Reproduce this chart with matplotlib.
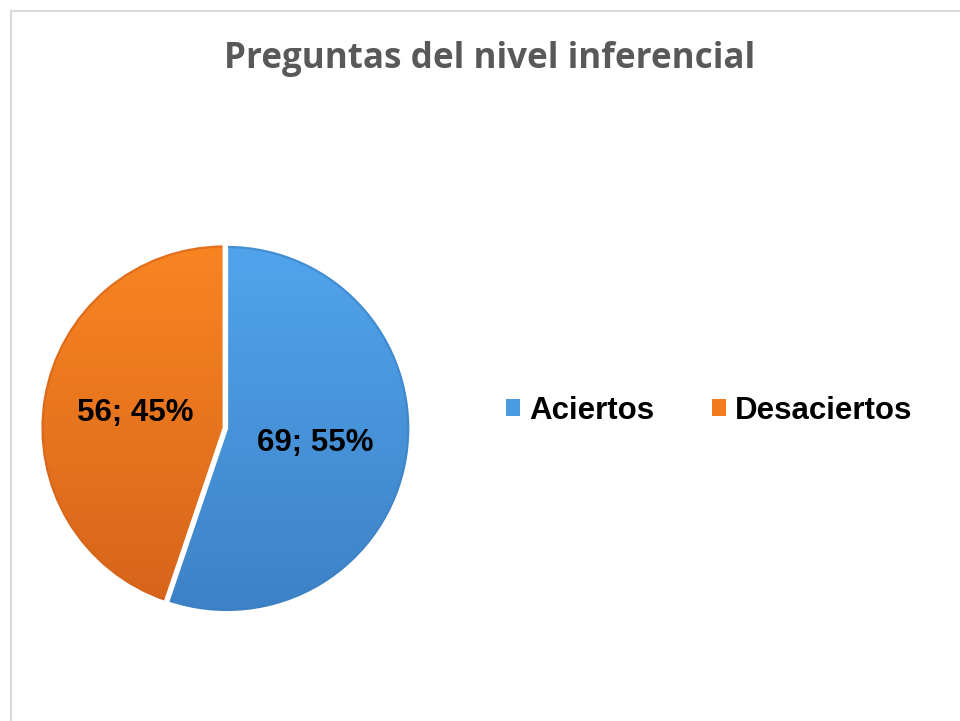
import matplotlib
matplotlib.use("Agg")
import matplotlib.pyplot as plt
import numpy as np
from matplotlib.patches import Rectangle, Wedge
from matplotlib.colors import LinearSegmentedColormap

categories = ["Aciertos", "Desaciertos"]
values = [69, 56]
colors = ["#4A9CE2", "#F27B1D"]
top_colors = ["#52A6EE", "#FA8722"]
bottom_colors = ["#3C80C4", "#D4621A"]
title = "Preguntas del nivel inferencial"

W, H = 960, 721
fig = plt.figure(figsize=(W / 100, H / 100), dpi=100)
fig.patch.set_facecolor("white")

# chart border
fig.add_artist(Rectangle((10.5 / W, -0.05), 1.2, (H - 11) / H + 0.05,
                         transform=fig.transFigure, fill=False,
                         edgecolor="#D9D9D9", linewidth=1.5))

# pie axes: center (224, 428) px, radius 184 px
L = 1.1
R = 184
cx, cy = 224, 428
aw = 2 * L * R
ax = fig.add_axes([(cx - aw / 2) / W, (H - cy - aw / 2) / H, aw / W, aw / H])

total = sum(values)

def fmt(p):
    v = int(round(p * total / 100.0))
    return f"{v}; {p:.0f}%"

wedges, texts, autotexts = ax.pie(
    values, colors=colors, startangle=90, counterclock=False,
    explode=[0.015, 0], radius=1.0, autopct=fmt, pctdistance=0.49,
    wedgeprops=dict(edgecolor="none", linewidth=0),
    textprops=dict(fontsize=22.5, fontweight="bold", family="Liberation Sans",
                   color="black"))
ax.set_aspect("equal")
ax.axis("off")

# vertical gradient shading clipped to each wedge
grad = np.linspace(0, 1, 256).reshape(-1, 1)
for w, ct, cb in zip(wedges, top_colors, bottom_colors):
    cmap = LinearSegmentedColormap.from_list("g", [cb, ct])
    im = ax.imshow(grad, extent=(-L, L, -L, L), origin="lower", cmap=cmap,
                   aspect="auto", zorder=2, interpolation="bilinear")
    im.set_clip_path(w)
    rim = Wedge(w.center, w.r, w.theta1, w.theta2, fill=False,
                edgecolor="white", linewidth=2.0, zorder=3)
    ax.add_patch(rim)
    outer = Wedge(w.center, w.r, w.theta1, w.theta2, width=0.02, fill=True,
                  facecolor=cb, edgecolor="none", alpha=0.6, zorder=2.5)
    ax.add_patch(outer)
ax.set_xlim(-L, L)
ax.set_ylim(-L, L)
for t in autotexts:
    t.set_zorder(5)

# title
fig.text(490 / W, 1 - 68 / H, title, ha="center", va="baseline",
         fontsize=25.2, fontweight="bold", color="#595959",
         family="Open Sans")

# legend
leg = fig.legend(wedges, categories, loc="center left",
                 bbox_to_anchor=(478 / W, 1 - 411 / H), ncol=2,
                 frameon=False, handlelength=0.45, handleheight=0.45,
                 handletextpad=0.3, columnspacing=1.83,
                 prop=dict(family="Liberation Sans", weight="bold", size=22.5))

fig.savefig("out.png", dpi=100, facecolor="white")
